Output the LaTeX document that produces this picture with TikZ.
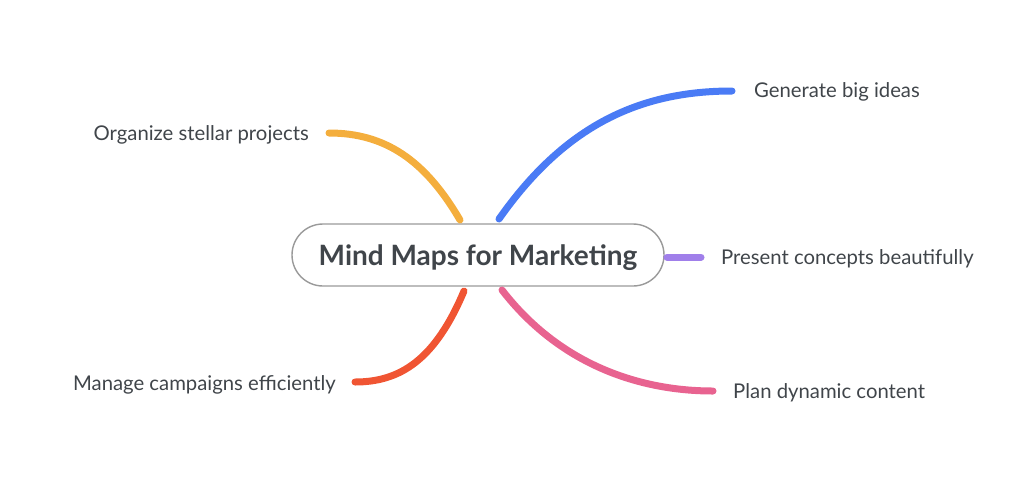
\documentclass[tikz,border=0pt]{standalone}
\usepackage{fontspec}
\setmainfont{Lato}
\definecolor{txt}{HTML}{40454A}
\definecolor{bordergray}{HTML}{9A9A9A}
\definecolor{cblue}{HTML}{4A7BF5}
\definecolor{corange}{HTML}{F4AE3D}
\definecolor{cpurple}{HTML}{A07FEA}
\definecolor{cred}{HTML}{F05533}
\definecolor{cpink}{HTML}{E86390}
\begin{document}
\begin{tikzpicture}[x=1pt,y=-1pt,
  branch/.style={line width=7pt,line cap=round},
  leaf/.style={text=txt,font=\fontsize{20.3}{24}\selectfont,inner sep=0pt},
  hub/.style={draw=bordergray,line width=1.4pt,rounded corners=31pt,minimum width=372pt,minimum height=62pt,text=txt,font=\fontsize{28}{32}\selectfont\bfseries,fill=white,text height=21pt,text depth=0pt}]
\useasboundingbox (0,0) rectangle (1024,496);
\node[hub] (c) at (478,255) {Mind Maps for Marketing};
\node[leaf,anchor=west] (gen) at (754,92) {Generate big ideas};
\node[leaf,anchor=east] (org) at (309,135) {Organize stellar projects};
\node[leaf,anchor=west] (pre) at (721,259) {Present concepts beautifully};
\node[leaf,anchor=east] (man) at (336,385) {Manage campaigns efficiently};
\node[leaf,anchor=west] (plan) at (733,393) {Plan dynamic content};
\coordinate (o1) at (460,220);
\coordinate (o2) at (329,133);
\coordinate (b1) at (499,219);
\coordinate (b2) at (732,91);
\coordinate (p1) at (667,257);
\coordinate (p2) at (701,257);
\coordinate (r1) at (464,291);
\coordinate (r2) at (355,382);
\coordinate (k1) at (502,290);
\coordinate (k2) at (713,391);
\draw[branch,corange] (o1) .. controls (425,160) and (385,133) .. (o2);
\draw[branch,cblue] (b1) .. controls (565,125) and (640,91) .. (b2);
\draw[branch,cpurple] (p1) -- (p2);
\draw[branch,cred] (r1) .. controls (435,360) and (400,382) .. (r2);
\draw[branch,cpink] (k1) .. controls (560,365) and (640,391) .. (k2);
\end{tikzpicture}
\end{document}
